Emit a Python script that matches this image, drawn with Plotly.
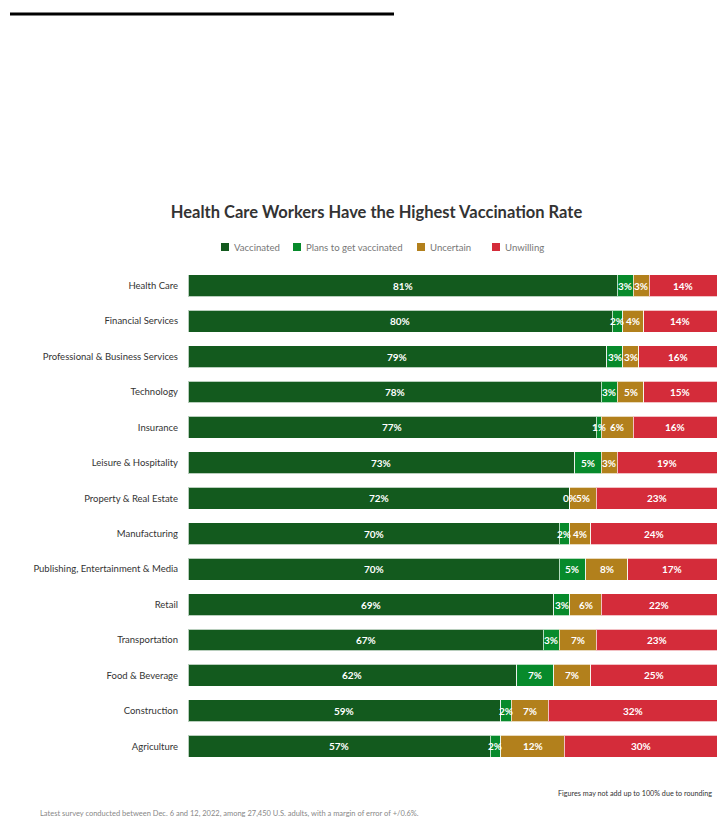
import plotly.graph_objects as go

categories = ["Health Care", "Financial Services", "Professional & Business Services", "Technology",
              "Insurance", "Leisure & Hospitality", "Property & Real Estate", "Manufacturing",
              "Publishing, Entertainment & Media", "Retail", "Transportation", "Food & Beverage",
              "Construction", "Agriculture"]
vaccinated = [81, 80, 79, 78, 77, 73, 72, 70, 70, 69, 67, 62, 59, 57]
plans = [3, 2, 3, 3, 1, 5, 0, 2, 5, 3, 3, 7, 2, 2]
uncertain = [3, 4, 3, 5, 6, 3, 5, 4, 8, 6, 7, 7, 7, 12]
unwilling = [14, 14, 16, 15, 16, 19, 23, 24, 17, 22, 23, 25, 32, 30]

series = [
    ("Vaccinated", vaccinated, "#135a1e"),
    ("Plans to get vaccinated", plans, "#078a2b"),
    ("Uncertain", uncertain, "#b2801c"),
    ("Unwilling", unwilling, "#d42c3a"),
]

XMAX = 99.8
FONT = "Lato"

# plot area in pixels
L, T, W, H = 188, 268, 529, 496
def px(x):
    return (x - L) / W
def py(y):
    return (T + H - y) / H

fig = go.Figure()
for name, vals, color in series:
    fig.add_trace(go.Bar(
        y=categories, x=vals, name=name, orientation="h",
        marker=dict(color=color, line=dict(color="rgba(255,255,255,0.7)", width=1)),
        hoverinfo="skip", showlegend=False,
    ))

annotations = []
shapes = []
for i, cat in enumerate(categories):
    start = 0
    for name, vals, color in series:
        v = vals[i]
        end = start + v
        cx = (start + min(end, XMAX)) / 2
        annotations.append(dict(x=cx, y=cat, xref="x", yref="y", text=f"{v}%", showarrow=False,
                                font=dict(family=FONT, size=10, color="white", weight="bold")))
        start = end

# custom legend
legend_marker_x = [221, 293, 417, 492]
for (name, vals, color), mx in zip(series, legend_marker_x):
    shapes.append(dict(type="rect", xref="paper", yref="paper",
                       x0=px(mx), x1=px(mx + 8), y0=py(251), y1=py(243),
                       fillcolor=color, line=dict(width=0)))
    annotations.append(dict(x=px(mx + 11), y=py(247), xref="paper", yref="paper",
                            xanchor="left", yanchor="middle", text=name, showarrow=False,
                            font=dict(family=FONT, size=9.6, color="#777777")))

annotations.append(dict(x=px(714), y=py(793), xref="paper", yref="paper", xanchor="right", yanchor="middle",
                        text="Figures may not add up to 100% due to rounding", showarrow=False,
                        font=dict(family=FONT, size=7.2, color="#333333")))
annotations.append(dict(x=px(38), y=py(813), xref="paper", yref="paper", xanchor="left", yanchor="middle",
                        text="Latest survey conducted between Dec. 6 and 12, 2022, among 27,450 U.S. adults, with a margin of error of +/0.6%.",
                        showarrow=False, font=dict(family=FONT, size=7.5, color="#888888")))

shapes.append(dict(type="line", xref="paper", yref="paper",
                   x0=px(10), x1=px(394), y0=py(14), y1=py(14),
                   line=dict(color="black", width=3)))

fig.update_layout(
    width=717, height=821,
    margin=dict(l=L, r=717 - L - W, t=T, b=821 - T - H),
    barmode="stack",
    bargap=0.38,
    plot_bgcolor="white", paper_bgcolor="white",
    font=dict(family=FONT),
    showlegend=False,
    title=dict(text="<b>Health Care Workers Have the Highest Vaccination Rate</b>",
               x=376.5 / 717, xanchor="center", y=1 - 212 / 821, yanchor="middle",
               font=dict(family=FONT, size=16.5, color="#333333")),
    xaxis=dict(range=[0, XMAX], visible=False, fixedrange=True),
    yaxis=dict(autorange="reversed", showgrid=False, zeroline=False, showline=False,
               ticks="", ticklabelstandoff=9, tickfont=dict(family=FONT, size=9.5, color="#333333")),
    annotations=annotations,
    shapes=shapes,
)

fig.write_html("out.html")
